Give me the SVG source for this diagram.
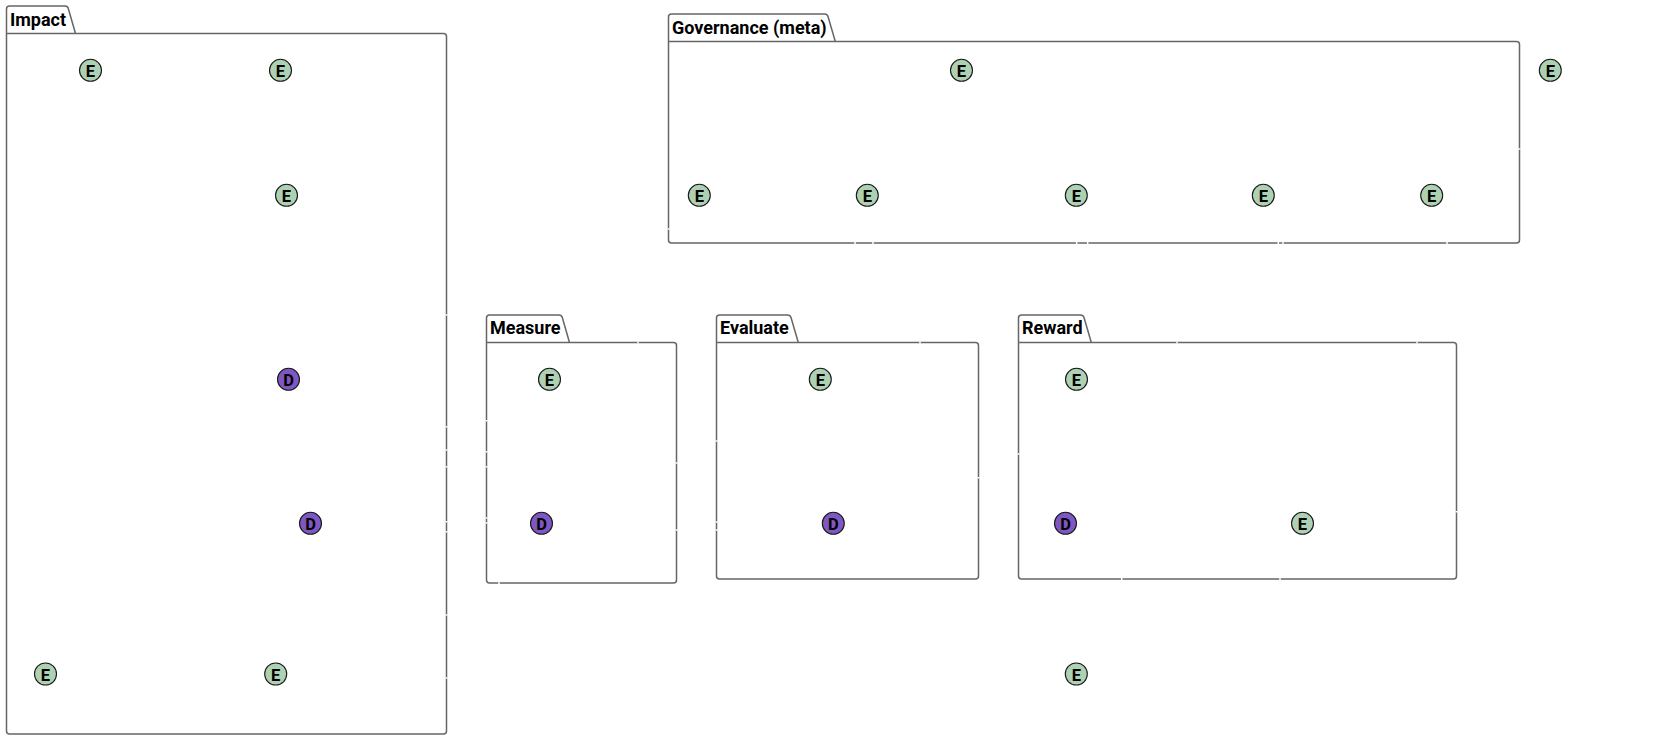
<svg xmlns="http://www.w3.org/2000/svg" width="1666" height="740" viewBox="0 0 1666 740">
<style>
.frame{fill:none;stroke:#666;stroke-width:1.5;stroke-linejoin:round}
.title{font-family:Roboto,"Liberation Sans",sans-serif;font-weight:700;font-size:18px;fill:#000}
.e{fill:#ADD1B2;stroke:#181818;stroke-width:1.1}
.d{fill:#7E57C2;stroke:#181818;stroke-width:1.1}
.glyph{font-family:Roboto,"Liberation Sans",sans-serif;font-weight:700;font-size:16.5px;fill:#000;text-anchor:middle}
.tick{stroke:#fff;stroke-width:1.5;fill:none}
</style>
<defs>
<g id="nE"><circle class="e" r="11"/><text class="glyph" y="6.500">E</text></g>
<g id="nD"><circle class="d" r="11"/><text class="glyph" y="6.500">D</text></g>
</defs>
<g id="pkg-impact"><path class="frame" d="M6.500 33.500V9Q6.500 6 9.500 6H65Q67.700 6 68.300 8.500L75.500 33.500H443.500Q446.500 33.500 446.500 36.500V731Q446.500 734 443.500 734H9.500Q6.500 734 6.500 731V33.500H75.500"/><text class="title" x="10" y="25.500">Impact</text></g>
<g id="pkg-governance"><path class="frame" d="M668.500 41.500V17Q668.500 14 671.500 14H824.500Q827.300 14 828 16.500L835.300 41.500H1516.500Q1519.500 41.500 1519.500 44.500V240Q1519.500 243 1516.500 243H671.500Q668.500 243 668.500 240V41.500H835.300"/><text class="title" x="672" y="33.500">Governance (meta)</text></g>
<g id="pkg-measure"><path class="frame" d="M486.500 342.500V318Q486.500 315 489.500 315H559Q561.700 315 562.300 317.500L569.500 342.500H673.500Q676.500 342.500 676.500 345.500V580Q676.500 583 673.500 583H489.500Q486.500 583 486.500 580V342.500H569.500"/><text class="title" x="490" y="334">Measure</text></g>
<g id="pkg-evaluate"><path class="frame" d="M716.500 342.500V318Q716.500 315 719.500 315H787.500Q790.300 315 791 317.500L798.300 342.500H975.500Q978.500 342.500 978.500 345.500V576Q978.500 579 975.500 579H719.500Q716.500 579 716.500 576V342.500H798.300"/><text class="title" x="720" y="334">Evaluate</text></g>
<g id="pkg-reward"><path class="frame" d="M1018.500 342.500V318Q1018.500 315 1021.500 315H1080.500Q1083.300 315 1084 317.500L1091.300 342.500H1453.500Q1456.500 342.500 1456.500 345.500V576Q1456.500 579 1453.500 579H1021.500Q1018.500 579 1018.500 576V342.500H1091.300"/><text class="title" x="1022" y="334">Reward</text></g>
<g id="connectors">
<path class="tick" d="M445.500 315h2M445.500 426.700h2M445.500 450h2M445.500 466.700h2M445.500 521.700h2M445.500 531.700h2M445.500 615h2M445.500 678h2M485.500 420.700h2M485.500 451.700h2M485.500 466.700h2M485.500 518h2M485.500 523h2M499 582v2M638 341.500v2M675.500 463h2M675.500 530h2M715.500 441h2M715.500 522h2M715.500 530h2M920 341.500v2M977.500 477.700h2M1017.500 454h2M1177 341.500v2M1417 341.500v2M1121.700 578v2M1280 578v2M1455.500 511.700h2M667.500 229h2M855 242v2M873 242v2M1076.700 242v2M1087.700 242v2M1278.300 242v2M1283 242v2M1447 242v2M1518.500 149h2"/>
</g>
<g id="n1"><use href="#nE" x="90.500" y="70.300"/></g>
<g id="n2"><use href="#nE" x="280.500" y="70.300"/></g>
<g id="n3"><use href="#nE" x="286.500" y="195.300"/></g>
<g id="n4"><use href="#nD" x="288.500" y="379.300"/></g>
<g id="n5"><use href="#nD" x="310.500" y="523.300"/></g>
<g id="n6"><use href="#nE" x="45.500" y="674"/></g>
<g id="n7"><use href="#nE" x="275.700" y="674"/></g>
<g id="n8"><use href="#nE" x="549.500" y="379.300"/></g>
<g id="n9"><use href="#nD" x="541.500" y="523.300"/></g>
<g id="n10"><use href="#nE" x="820.300" y="379.300"/></g>
<g id="n11"><use href="#nD" x="833.300" y="523.300"/></g>
<g id="n12"><use href="#nE" x="1076.500" y="379.300"/></g>
<g id="n13"><use href="#nD" x="1065.500" y="523.300"/></g>
<g id="n14"><use href="#nE" x="1302.500" y="523.300"/></g>
<g id="n15"><use href="#nE" x="1076.300" y="674"/></g>
<g id="n16"><use href="#nE" x="961.500" y="70.300"/></g>
<g id="n17"><use href="#nE" x="699.300" y="195.300"/></g>
<g id="n18"><use href="#nE" x="867.300" y="195.300"/></g>
<g id="n19"><use href="#nE" x="1076.300" y="195.300"/></g>
<g id="n20"><use href="#nE" x="1263.300" y="195.300"/></g>
<g id="n21"><use href="#nE" x="1431.700" y="195.300"/></g>
<g id="n22"><use href="#nE" x="1550.300" y="70.300"/></g>
</svg>
